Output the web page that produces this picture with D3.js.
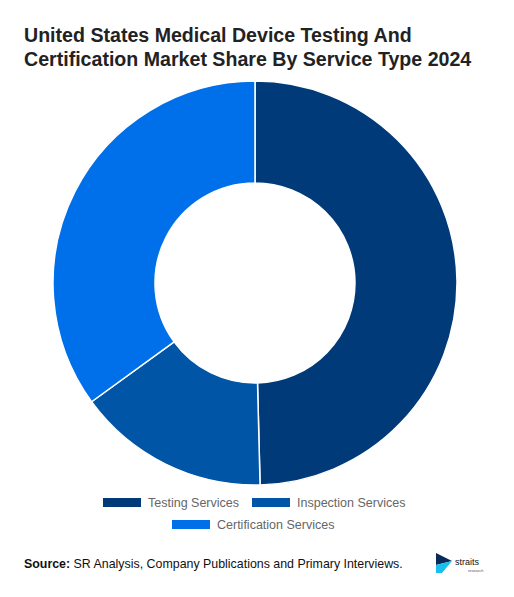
<!DOCTYPE html>
<html><head><meta charset="utf-8">
<script src="https://cdn.jsdelivr.net/npm/d3@7"></script>
<style>body{margin:0;background:#fff;font-family:Arial,"Liberation Sans",sans-serif}</style>
</head><body>
<svg id="c" width="514" height="597"></svg>
<script>
const categories = ['Testing Services', 'Inspection Services', 'Certification Services']
const shares = [49.6, 15.4, 35.0]
const colors = ['#003a78', '#0055a6', '#0070ea']

const svg = d3.select('#c')
svg.append('rect').attr('width', 514).attr('height', 597).attr('fill', '#fff')

const title = svg.append('text').attr('x', 24).attr('y', 42)
  .attr('font-size', 19.6).attr('font-weight', 'bold').attr('fill', '#222')
title.append('tspan').attr('x', 24).text('United States Medical Device Testing And')
title.append('tspan').attr('x', 24).attr('dy', 24).text('Certification Market Share By Service Type 2024')

const pie = d3.pie().sort(null).value(d => d)
const arc = d3.arc().innerRadius(100).outerRadius(202)
const g = svg.append('g').attr('transform', 'translate(255,283)')
g.selectAll('path').data(pie(shares)).join('path')
  .attr('d', arc)
  .attr('fill', (d, i) => colors[i])
  .attr('stroke', '#fff').attr('stroke-width', 1.5)

// legend
const legendPos = [[103, 498], [252, 498], [172, 520]]
categories.forEach((c, i) => {
  const [x, y] = legendPos[i]
  svg.append('rect').attr('x', x).attr('y', y).attr('width', 38).attr('height', 9).attr('fill', colors[i])
  svg.append('text').attr('x', x + 45).attr('y', y + 8.5)
    .attr('font-size', 12.5).attr('fill', '#666').text(c)
})

const src = svg.append('text').attr('x', 24).attr('y', 568).attr('font-size', 12.4).attr('fill', '#111')
src.append('tspan').attr('font-weight', 'bold').text('Source:')
src.append('tspan').text(' SR Analysis, Company Publications and Primary Interviews.')

// logo
const logo = svg.append('g').attr('transform', 'translate(436,553)')
logo.append('path').attr('d', 'M0 0 L16 8 L0 12 Z').attr('fill', '#0a2a5a')
logo.append('path').attr('d', 'M0 12 L16 8 L6 20 L0 20 Z').attr('fill', '#18c0f0')
logo.append('text').attr('x', 19).attr('y', 12).attr('font-size', 9).attr('fill', '#111').text('straits')
logo.append('text').attr('x', 32).attr('y', 19).attr('font-size', 4).attr('fill', '#555').text('research')
</script>
</body></html>
